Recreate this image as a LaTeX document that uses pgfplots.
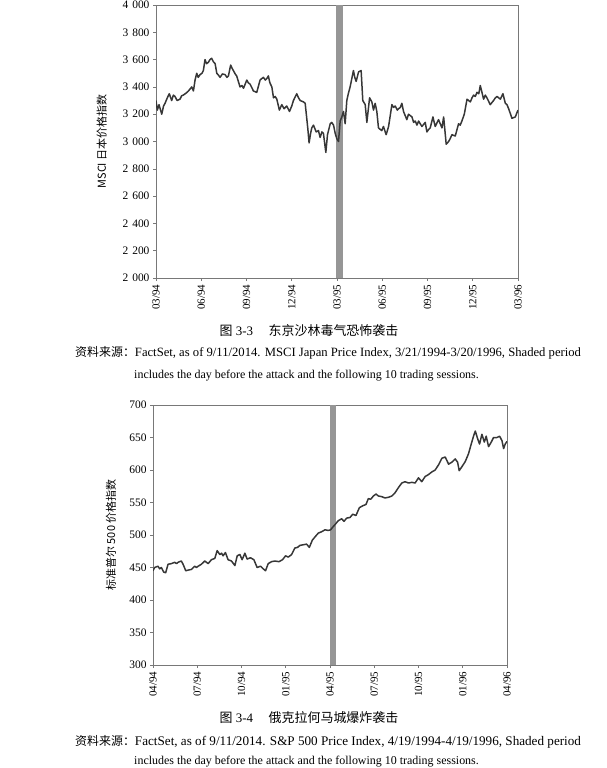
\documentclass[border=0pt]{standalone}
\usepackage{fontspec}
\setmainfont{Liberation Serif}
\newfontfamily\cjk{Noto Sans CJK SC}
\usepackage{graphicx}
\usepackage{pgfplots}
\pgfplotsset{compat=1.18}
\definecolor{linec}{RGB}{55,55,55}
\definecolor{framec}{RGB}{120,120,120}
\definecolor{bandc}{RGB}{150,150,150}
\pgfplotsset{
  pagestyle/.style={
    scale only axis,
    axis line style={framec, line width=0.6pt},
    tick style={framec, line width=0.6pt},
    tick align=outside,
    major tick length=3bp,
    xtick pos=bottom, ytick pos=left,
    xmin=0, xmax=24,
    xtick={0,3,...,24},
    x tick label style={rotate=90, anchor=east, font=\fontsize{11}{12}\selectfont},
    y tick label style={font=\fontsize{11.5}{12}\selectfont},
    /pgf/number format/assume math mode=true,
    /pgf/number format/1000 sep={\hspace{0.35em}},
    every axis y label/.style={rotate=90, anchor=center},
    ylabel style={font=\cjk\fontsize{11}{12}\selectfont},
    clip=true,
  }
}
\begin{document}
\begin{tikzpicture}
\path[use as bounding box] (0,0) rectangle (607bp,-768bp);

% ---------- Chart 1 ----------
\begin{axis}[pagestyle,
  at={(156bp,-278bp)}, anchor=south west,
  width=362bp, height=273bp,
  ymin=2000, ymax=4000, ytick={2000,2200,...,4000},
  xticklabels={03/94,06/94,09/94,12/94,03/95,06/95,09/95,12/95,03/96},
  ylabel={MSCI 日本价格指数},
  every axis y label/.append style={at={(axis description cs:-0.15,0.5)}},
]
\addplot[fill=bandc, draw=none] coordinates {(11.95,2000) (12.4,2000) (12.4,4000) (11.95,4000)} -- cycle;
\addplot[linec, line width=1.5pt, line join=round] coordinates {
(0,3300) (0.09,3230) (0.2,3270) (0.38,3200) (0.5,3260) (0.60,3280) (0.75,3320) (0.88,3350) (1.04,3300) (1.15,3340) (1.26,3330) (1.4,3300) (1.59,3310) (1.7,3335) (1.81,3340) (2.0,3355) (2.15,3370) (2.37,3400) (2.48,3370) (2.59,3450) (2.70,3500) (2.8,3470) (2.92,3490) (3.05,3500) (3.14,3520) (3.25,3600) (3.35,3570) (3.47,3580) (3.58,3600) (3.69,3610) (3.8,3585) (3.92,3570) (4.03,3500) (4.15,3485) (4.25,3470) (4.4,3495) (4.58,3490) (4.7,3470) (4.80,3480) (4.95,3560) (5.05,3535) (5.13,3520) (5.25,3495) (5.35,3480) (5.57,3400) (5.7,3410) (5.80,3390) (6.02,3450) (6.12,3430) (6.24,3420) (6.35,3395) (6.46,3370) (6.68,3360) (6.90,3450) (7.0,3460) (7.12,3470) (7.25,3450) (7.34,3460) (7.45,3480) (7.55,3430) (7.68,3400) (7.79,3320) (7.9,3330) (8.01,3310) (8.18,3230) (8.34,3270) (8.49,3240) (8.67,3260) (8.85,3220) (9.0,3260) (9.11,3300) (9.33,3350) (9.45,3320) (9.56,3300) (9.78,3290) (9.89,3280) (10.06,3100) (10.15,2990) (10.25,3060) (10.33,3100) (10.44,3120) (10.62,3070) (10.77,3080) (10.88,3030) (11.0,3070) (11.10,3060) (11.26,2920) (11.37,3050) (11.55,3130) (11.65,3140) (11.77,3120) (11.88,3060) (11.99,3020) (12.10,3000) (12.21,3150) (12.32,3180) (12.43,3220) (12.54,3130) (12.65,3300) (12.75,3350) (12.87,3400) (12.98,3460) (13.09,3520) (13.18,3470) (13.27,3440) (13.43,3510) (13.60,3520) (13.71,3300) (13.87,3270) (13.98,3140) (14.16,3320) (14.31,3290) (14.42,3230) (14.53,3280) (14.64,3220) (14.75,3100) (14.85,3090) (14.97,3080) (15.08,3110) (15.26,3050) (15.42,3110) (15.64,3270) (15.75,3250) (15.86,3260) (16.0,3230) (16.08,3240) (16.20,3250) (16.30,3280) (16.41,3220) (16.52,3190) (16.63,3160) (16.74,3200) (16.97,3180) (17.08,3140) (17.19,3150) (17.30,3120) (17.41,3150) (17.63,3110) (17.85,3140) (17.96,3070) (18.05,3085) (18.18,3100) (18.36,3180) (18.51,3110) (18.60,3130) (18.73,3160) (18.96,3100) (19.07,3180) (19.24,2980) (19.40,3000) (19.5,3020) (19.62,3050) (19.84,3040) (20.06,3130) (20.17,3120) (20.28,3150) (20.44,3200) (20.62,3310) (20.84,3290) (20.95,3320) (21.06,3340) (21.17,3330) (21.28,3360) (21.40,3350) (21.50,3410) (21.72,3310) (21.83,3340) (21.94,3320) (22.16,3270) (22.38,3300) (22.50,3320) (22.61,3330) (22.83,3310) (23.00,3350) (23.16,3280) (23.27,3270) (23.38,3240) (23.60,3170) (23.82,3180) (24,3230)
};
\end{axis}

\node[font=\fontsize{13}{15}\selectfont] at (309bp,-331bp) {{\cjk 图} 3-3\hspace{1.2em}{\cjk 东京沙林毒气恐怖袭击}};
\node[font=\fontsize{12}{14}\selectfont, anchor=west, inner sep=0pt] at (75bp,-353bp) {{\cjk 资料来源：}\resizebox{446bp}{!}{\scalebox{1}[1]{FactSet, as of 9/11/2014. MSCI Japan Price Index, 3/21/1994-3/20/1996, Shaded period}}};
\node[font=\fontsize{12}{14}\selectfont, anchor=west, inner sep=0pt] at (134bp,-376bp) {includes the day before the attack and the following 10 trading sessions.};

% ---------- Chart 2 ----------
\begin{axis}[pagestyle,
  at={(153bp,-665bp)}, anchor=south west,
  width=354bp, height=260bp,
  ymin=300, ymax=700, ytick={300,350,...,700},
  xticklabels={04/94,07/94,10/94,01/95,04/95,07/95,10/95,01/96,04/96},
  ylabel={标准普尔 500 价格指数},
  every axis y label/.append style={at={(axis description cs:-0.119,0.5)}},
]
\addplot[fill=bandc, draw=none] coordinates {(12.0,300) (12.4,300) (12.4,700) (12.0,700)} -- cycle;
\addplot[linec, line width=1.5pt, line join=round] coordinates {
(0,445) (0.11,450) (0.34,452) (0.45,448) (0.57,450) (0.72,443) (0.86,442) (1.02,455) (1.25,456) (1.47,458) (1.60,456) (1.70,458) (1.92,460) (2.04,455) (2.22,445) (2.38,446) (2.60,447) (2.83,452) (2.95,450) (3.06,452) (3.28,455) (3.51,460) (3.74,456) (3.96,462) (4.19,464) (4.35,476) (4.53,470) (4.65,472) (4.75,468) (4.91,473) (5.09,462) (5.32,460) (5.55,453) (5.71,468) (5.89,470) (6.04,462) (6.23,472) (6.38,463) (6.61,465) (6.84,462) (7.06,450) (7.29,452) (7.47,448) (7.63,445) (7.81,456) (8.04,459) (8.26,460) (8.54,459) (8.78,462) (8.99,468) (9.17,466) (9.40,470) (9.62,480) (9.80,481) (9.96,484) (10.19,485) (10.41,486) (10.60,481) (10.80,492) (10.98,497) (11.21,503) (11.43,505) (11.66,508) (11.89,507) (12.04,508) (12.18,512) (12.34,516) (12.56,522) (12.79,525) (12.95,521) (13.13,526) (13.36,527) (13.54,532) (13.76,530) (13.99,542) (14.22,545) (14.44,547) (14.60,556) (14.76,555) (14.94,560) (15.12,563) (15.28,560) (15.51,559) (15.73,557) (15.96,558) (16.19,560) (16.41,565) (16.64,573) (16.87,580) (17.09,582) (17.32,580) (17.55,581) (17.77,580) (18.00,588) (18.22,582) (18.45,590) (18.68,593) (18.90,597) (19.13,600) (19.36,608) (19.58,618) (19.81,620) (20.04,609) (20.26,612) (20.49,617) (20.65,612) (20.76,599) (20.94,605) (21.17,613) (21.39,625) (21.55,638) (21.73,652) (21.85,660) (22.01,648) (22.14,640) (22.30,655) (22.46,643) (22.59,652) (22.75,636) (22.91,642) (23.09,650) (23.32,650) (23.50,652) (23.66,645) (23.77,633) (23.88,640) (24,644)
};
\end{axis}

\node[font=\fontsize{13}{15}\selectfont] at (309bp,-718bp) {{\cjk 图} 3-4\hspace{1.2em}{\cjk 俄克拉何马城爆炸袭击}};
\node[font=\fontsize{12}{14}\selectfont, anchor=west, inner sep=0pt] at (75bp,-742bp) {{\cjk 资料来源：}\resizebox{446bp}{!}{FactSet, as of 9/11/2014. S\&P 500 Price Index, 4/19/1994-4/19/1996, Shaded period}};
\node[font=\fontsize{12}{14}\selectfont, anchor=west, inner sep=0pt] at (134bp,-762bp) {includes the day before the attack and the following 10 trading sessions.};
\end{tikzpicture}
\end{document}
